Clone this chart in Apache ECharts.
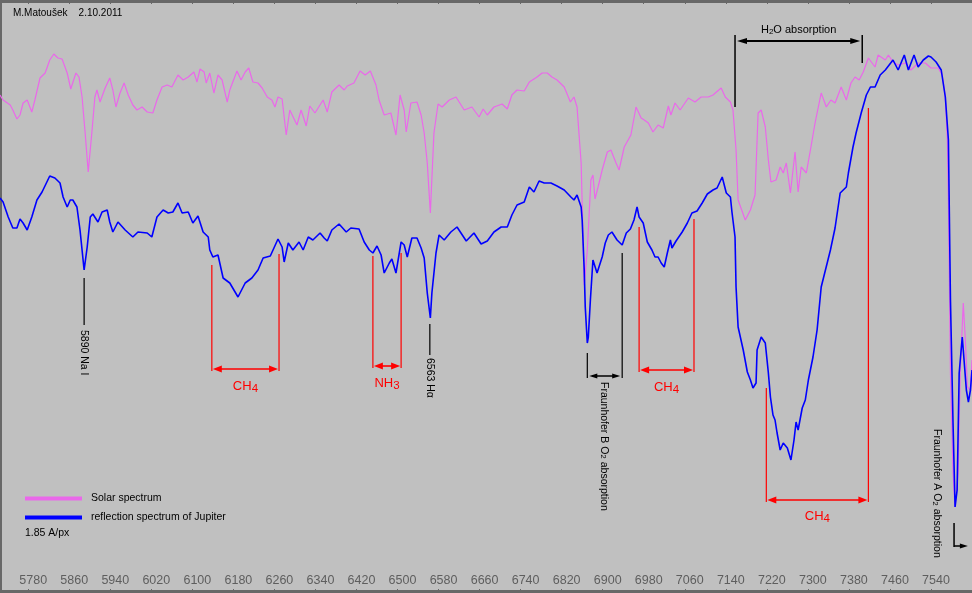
<!DOCTYPE html>
<html><head><meta charset="utf-8">
<script src="https://cdn.jsdelivr.net/npm/echarts@6/dist/echarts.min.js"></script>
<style>html,body{margin:0;padding:0;background:#c0c0c0}#c{width:972px;height:593px}</style>
</head><body><div id="c"></div><script>
const FONT = "'Liberation Sans', Arial, sans-serif";

const wavelengthTicks = [5780,5860,5940,6020,6100,6180,6260,6340,6420,6500,6580,6660,6740,6820,6900,6980,7060,7140,7220,7300,7380,7460,7540];

// [wavelength (A), relative flux]
const solarSpectrum = [
[5725,498],[5731,493],[5745,488],[5750,483],[5758,474],[5764,478],[5770,490],[5778,493],[5787,481],[5793,493],
[5803,515],[5813,520],[5822,533],[5830,539],[5838,535],[5846,534],[5856,520],[5863,504],[5873,520],[5879,516],
[5885,496],[5891,460],[5897,421],[5904,460],[5910,496],[5914,503],[5920,491],[5930,505],[5939,515],[5945,503],
[5951,486],[5959,500],[5967,510],[5975,498],[5984,488],[5992,483],[6002,486],[6012,481],[6023,480],[6031,493],
[6041,506],[6051,508],[6060,506],[6072,518],[6082,513],[6092,516],[6103,521],[6109,511],[6115,524],[6123,521],
[6127,510],[6134,520],[6142,500],[6150,518],[6158,513],[6168,491],[6173,503],[6187,522],[6195,513],[6203,521],
[6210,525],[6218,511],[6228,510],[6236,505],[6246,496],[6255,493],[6261,486],[6267,496],[6275,494],[6283,458],
[6290,483],[6304,468],[6312,483],[6322,467],[6329,487],[6339,480],[6355,493],[6363,481],[6372,501],[6386,508],
[6396,503],[6402,507],[6415,510],[6427,522],[6437,518],[6447,522],[6458,508],[6464,493],[6474,478],[6487,480],
[6497,458],[6505,498],[6513,483],[6517,461],[6526,490],[6538,491],[6546,478],[6552,460],[6558,430],[6564,380],
[6571,460],[6579,489],[6587,486],[6601,493],[6614,496],[6630,483],[6645,486],[6659,476],[6667,484],[6675,478],
[6688,486],[6704,489],[6714,484],[6723,498],[6733,503],[6747,502],[6757,511],[6772,516],[6782,520],[6792,520],
[6801,516],[6811,513],[6825,506],[6837,491],[6844,496],[6850,486],[6858,430],[6864,308],[6870,343],[6877,413],
[6881,418],[6885,394],[6891,406],[6899,423],[6909,441],[6916,443],[6926,430],[6932,423],[6942,446],[6955,458],
[6965,486],[6975,475],[6981,473],[6989,470],[6998,461],[7008,468],[7018,465],[7028,487],[7033,478],[7041,490],
[7051,483],[7067,495],[7080,491],[7092,496],[7106,496],[7115,498],[7131,505],[7139,496],[7149,491],[7154,483],
[7160,443],[7164,393],[7178,373],[7188,383],[7197,398],[7203,480],[7209,483],[7217,466],[7223,433],[7228,411],
[7238,413],[7246,426],[7252,420],[7258,430],[7266,400],[7275,441],[7281,401],[7287,426],[7297,420],[7306,446],
[7314,470],[7326,500],[7336,486],[7345,493],[7353,490],[7365,506],[7375,493],[7384,510],[7392,516],[7400,513],
[7408,521],[7418,535],[7431,526],[7437,538],[7451,533],[7457,538],[7466,531],[7476,528],[7490,530],[7501,523],
[7515,530],[7529,530],[7540,525],[7554,525],[7562,518],[7568,496],[7572,453],[7574,393],[7578,220],[7583,120],
[7587,86],[7593,120],[7597,220],[7603,290],[7607,253],[7611,206],[7617,203],[7620,233]
];

const jupiterSpectrum = [
[5725,395],[5731,391],[5741,376],[5750,365],[5758,365],[5764,374],[5770,370],[5778,363],[5787,376],[5797,393],
[5807,401],[5822,417],[5832,415],[5842,410],[5848,396],[5856,386],[5862,393],[5867,393],[5875,386],[5881,363],
[5889,323],[5895,346],[5901,376],[5906,379],[5916,371],[5924,381],[5934,383],[5939,371],[5945,361],[5955,371],
[5969,363],[5984,356],[5994,361],[6012,360],[6021,356],[6031,376],[6043,383],[6053,380],[6062,381],[6072,390],
[6080,380],[6092,381],[6101,370],[6111,377],[6121,361],[6131,356],[6134,343],[6140,336],[6150,338],[6160,315],
[6173,310],[6189,296],[6203,310],[6216,315],[6228,323],[6238,335],[6252,337],[6267,354],[6275,346],[6279,331],
[6287,350],[6296,343],[6308,351],[6316,343],[6326,356],[6335,353],[6349,360],[6357,355],[6363,352],[6372,363],
[6386,369],[6400,361],[6409,365],[6425,364],[6435,351],[6445,343],[6452,340],[6460,347],[6468,338],[6474,320],
[6484,330],[6489,334],[6497,320],[6507,351],[6513,348],[6519,336],[6528,355],[6538,355],[6546,345],[6552,335],
[6558,300],[6564,275],[6567,300],[6575,340],[6581,358],[6591,353],[6604,361],[6616,366],[6634,352],[6649,360],
[6663,349],[6675,352],[6688,361],[6702,366],[6714,366],[6723,378],[6733,388],[6747,391],[6757,406],[6766,401],
[6776,412],[6786,410],[6799,410],[6811,407],[6825,403],[6838,396],[6844,393],[6850,398],[6858,386],[6860,373],
[6864,323],[6866,286],[6870,250],[6872,256],[6876,293],[6881,333],[6889,320],[6899,336],[6905,350],[6911,358],
[6918,361],[6928,353],[6938,348],[6946,360],[6954,364],[6961,373],[6967,386],[6971,376],[6979,370],[6987,351],
[6996,343],[7002,336],[7008,336],[7014,330],[7020,326],[7026,340],[7032,353],[7035,345],[7043,352],[7055,361],
[7065,370],[7074,380],[7084,382],[7094,390],[7104,399],[7115,403],[7123,405],[7133,416],[7141,400],[7149,396],
[7152,381],[7158,356],[7160,306],[7164,266],[7174,243],[7182,221],[7188,213],[7193,205],[7199,210],[7201,243],
[7209,256],[7217,250],[7223,220],[7227,196],[7232,178],[7236,173],[7240,160],[7246,143],[7252,150],[7260,145],
[7267,133],[7273,153],[7277,171],[7281,163],[7289,185],[7295,193],[7301,213],[7310,236],[7318,263],[7326,306],
[7344,343],[7353,365],[7363,400],[7375,406],[7379,420],[7388,446],[7394,460],[7404,480],[7414,498],[7422,506],
[7431,506],[7441,518],[7451,523],[7466,533],[7476,523],[7488,538],[7496,523],[7507,538],[7515,526],[7525,533],
[7535,537],[7540,536],[7550,531],[7560,523],[7568,496],[7574,453],[7578,293],[7583,170],[7587,86],[7591,103],
[7595,220],[7601,256],[7603,243],[7609,203],[7613,191],[7617,203],[7620,223]
];

// molecular bands: [wlStart, wlEnd, fluxTopStart, fluxTopEnd, fluxBase, fluxArrow, fluxLabel]
const bandMarks = [
[6138,6269,328,339,222,224,207],
[6452,6507,337,340,225,227,210],
[6971,7078,366,374,221,223,206],
[7219,7418,205,485,91,93,77]
];
const bandLabels = [['CH','4'],['NH','3'],['CH','4'],['CH','4']];

// single lines: [wavelength, fluxTop, fluxBottom, fluxTextStart]
const lineMarks = [[5889,315,268,263],[6563,269,238,235]];
const lineLabels = ['5890 Na I','6563 H\u03b1'];

// Fraunhofer B: [wlLeft, wlRight, fluxTopLeft, fluxTopRight, fluxBase, fluxArrow, wlText, fluxTextStart]
const fraunhoferB = [[6870,6938,240,340,215,217,6903,211]];
// Fraunhofer A: [wl, fluxTop, fluxBottom, wlArrowEnd, fluxArrow, wlText, fluxTextStart]
const fraunhoferA = [[7585,70,46,7612,47,7552,164]];
// H2O: [wlLeft, wlRight, fluxTop, fluxBottomLeft, fluxBottomRight, fluxArrow, fluxLabel]
const waterBand = [[7158,7406,558,486,530,552,563]];

function head(tipX, tipY, dir, len, half, color) {
  return {type:'polygon', shape:{points:[[tipX,tipY],[tipX-dir*len,tipY-half],[tipX-dir*len,tipY+half]]}, style:{fill:color}};
}
function seg(a, b, color, w) {
  return {type:'line', shape:{x1:a[0],y1:a[1],x2:b[0],y2:b[1]}, style:{stroke:color, lineWidth:w}};
}

const chart = echarts.init(document.getElementById('c'), null, {renderer:'canvas'});
const RED = '#ff0000';
const subRich = (size, sub) => ({
  m:{fontSize:size, fontFamily:FONT, lineHeight:size+4, verticalAlign:'middle'},
  s:{fontSize:sub, fontFamily:FONT, lineHeight:sub, verticalAlign:'bottom'}
});

chart.setOption({
  animation:false,
  backgroundColor:'#c0c0c0',
  grid:{left:0,right:0,top:0,bottom:0,containLabel:false},
  legend:{
    orient:'vertical', left:25, top:493, padding:0, itemWidth:57, itemHeight:4, itemGap:8, icon:'rect',
    data:['Solar spectrum','reflection spectrum of Jupiter'],
    textStyle:{color:'#000', fontSize:10.5, fontFamily:FONT, padding:[0,0,0,4]}
  },
  xAxis:[{
    type:'value', min:5725, max:7620, position:'bottom',
    axisLine:{show:true, onZero:false, lineStyle:{color:'#686868', width:6}},
    axisTick:{show:true, inside:true, length:4, customValues:wavelengthTicks, lineStyle:{color:'#686868', width:1}},
    axisLabel:{inside:true, margin:6, customValues:wavelengthTicks,
      formatter:v=>'{a|'+v+'}',
      rich:{a:{padding:[0,0,0,10], color:'#5e5e5e', fontSize:12.5, fontFamily:FONT}}},
    splitLine:{show:false}
  },{
    type:'value', min:5725, max:7620, position:'top',
    axisLine:{show:true, onZero:false, lineStyle:{color:'#686868', width:5}},
    axisTick:{show:true, inside:true, length:4, customValues:wavelengthTicks, lineStyle:{color:'#686868', width:1}},
    axisLabel:{show:false}, splitLine:{show:false}
  }],
  yAxis:{type:'value', min:0, max:593, axisLine:{show:true, lineStyle:{color:'#686868', width:4}},
    axisTick:{show:false}, axisLabel:{show:false}, splitLine:{show:false}},
  graphic:[
    {type:'text', left:13, top:8, style:{text:'M.Matou\u0161ek    2.10.2011', font:'10px '+FONT, fill:'#000'}},
    {type:'text', left:25, top:528, style:{text:'1.85 A/px', font:'10.5px '+FONT, fill:'#000'}}
  ],
  series:[
    {name:'Solar spectrum', type:'line', data:solarSpectrum, showSymbol:false, symbol:'none',
      lineStyle:{color:'#ea68ea', width:1.2}, itemStyle:{color:'#ea68ea'}, z:2},
    {name:'reflection spectrum of Jupiter', type:'line', data:jupiterSpectrum, showSymbol:false, symbol:'none',
      lineStyle:{color:'#0000ff', width:1.6}, itemStyle:{color:'#0000ff'}, z:3},
    {name:'bands', type:'custom', data:bandMarks, clip:false, z:4,
      renderItem:(params, api)=>{
        const x1=api.value(0), x2=api.value(1);
        const t1=api.coord([x1,api.value(2)]), t2=api.coord([x2,api.value(3)]);
        const b1=api.coord([x1,api.value(4)]), b2=api.coord([x2,api.value(4)]);
        const ay=api.coord([x1,api.value(5)])[1];
        const lab=api.coord([(x1+x2)/2,api.value(6)]);
        const l=bandLabels[params.dataIndex];
        return {type:'group', children:[
          seg(t1,b1,RED,1.2), seg(t2,b2,RED,1.2),
          seg([t1[0]+6,ay],[t2[0]-6,ay],RED,1.6),
          head(t1[0]+1,ay,-1,9,3.5,RED), head(t2[0]-1,ay,1,9,3.5,RED),
          {type:'text', x:lab[0], y:lab[1], style:{text:'{m|'+l[0]+'}{s|'+l[1]+'}', fill:RED,
            align:'center', verticalAlign:'middle', rich:subRich(13,11.5)}}
        ]};
      }},
    {name:'lines', type:'custom', data:lineMarks, clip:false, z:4,
      renderItem:(params, api)=>{
        const w=api.value(0);
        const t=api.coord([w,api.value(1)]), b=api.coord([w,api.value(2)]), s=api.coord([w,api.value(3)]);
        return {type:'group', children:[
          seg(t,b,'#000',1.2),
          {type:'text', x:s[0], y:s[1], rotation:-Math.PI/2,
            style:{text:lineLabels[params.dataIndex], fill:'#000', font:'10.5px '+FONT, align:'left', verticalAlign:'middle'}}
        ]};
      }},
    {name:'fraunhoferB', type:'custom', data:fraunhoferB, clip:false, z:4,
      renderItem:(params, api)=>{
        const x1=api.value(0), x2=api.value(1);
        const t1=api.coord([x1,api.value(2)]), t2=api.coord([x2,api.value(3)]);
        const b1=api.coord([x1,api.value(4)]), b2=api.coord([x2,api.value(4)]);
        const ay=api.coord([x1,api.value(5)])[1];
        const s=api.coord([api.value(6),api.value(7)]);
        return {type:'group', children:[
          seg(t1,b1,'#000',1.2), seg(t2,b2,'#000',1.2),
          seg([t1[0]+5,ay],[t2[0]-5,ay],'#000',1.5),
          head(t1[0]+2,ay,-1,8,2.5,'#000'), head(t2[0]-2,ay,1,8,2.5,'#000'),
          {type:'text', x:s[0], y:s[1], rotation:-Math.PI/2,
            style:{text:'Fraunhofer B O{s|2} absorption', fill:'#000', font:'10.5px '+FONT, align:'left', verticalAlign:'middle',
              rich:{s:{fontSize:8, fontFamily:FONT, verticalAlign:'bottom', lineHeight:8}}}}
        ]};
      }},
    {name:'fraunhoferA', type:'custom', data:fraunhoferA, clip:false, z:4,
      renderItem:(params, api)=>{
        const w=api.value(0);
        const t=api.coord([w,api.value(1)]), b=api.coord([w,api.value(2)]);
        const a2=api.coord([api.value(3),api.value(4)]);
        const s=api.coord([api.value(5),api.value(6)]);
        return {type:'group', children:[
          seg(t,b,'#000',1.5),
          seg([t[0],a2[1]],[a2[0]-5,a2[1]],'#000',1.5),
          head(a2[0],a2[1],1,8,2.5,'#000'),
          {type:'text', x:s[0], y:s[1], rotation:-Math.PI/2,
            style:{text:'Fraunhofer A O{s|2} absorption', fill:'#000', font:'10.5px '+FONT, align:'left', verticalAlign:'middle',
              rich:{s:{fontSize:8, fontFamily:FONT, verticalAlign:'bottom', lineHeight:8}}}}
        ]};
      }},
    {name:'water', type:'custom', data:waterBand, clip:false, z:4,
      renderItem:(params, api)=>{
        const x1=api.value(0), x2=api.value(1);
        const t1=api.coord([x1,api.value(2)]), t2=api.coord([x2,api.value(2)]);
        const b1=api.coord([x1,api.value(3)]), b2=api.coord([x2,api.value(4)]);
        const ay=api.coord([x1,api.value(5)])[1];
        const lab=api.coord([(x1+x2)/2,api.value(6)]);
        return {type:'group', children:[
          seg(t1,b1,'#000',1.5), seg(t2,b2,'#000',1.5),
          seg([t1[0]+6,ay],[t2[0]-6,ay],'#000',2),
          head(t1[0]+2,ay,-1,10,3,'#000'), head(t2[0]-2,ay,1,10,3,'#000'),
          {type:'text', x:lab[0], y:lab[1], style:{text:'H{s|2}O absorption', fill:'#000', font:'11px '+FONT,
            align:'center', verticalAlign:'middle', rich:{s:{fontSize:8, fontFamily:FONT, verticalAlign:'bottom', lineHeight:8}}}}
        ]};
      }}
  ]
});
</script></body></html>
